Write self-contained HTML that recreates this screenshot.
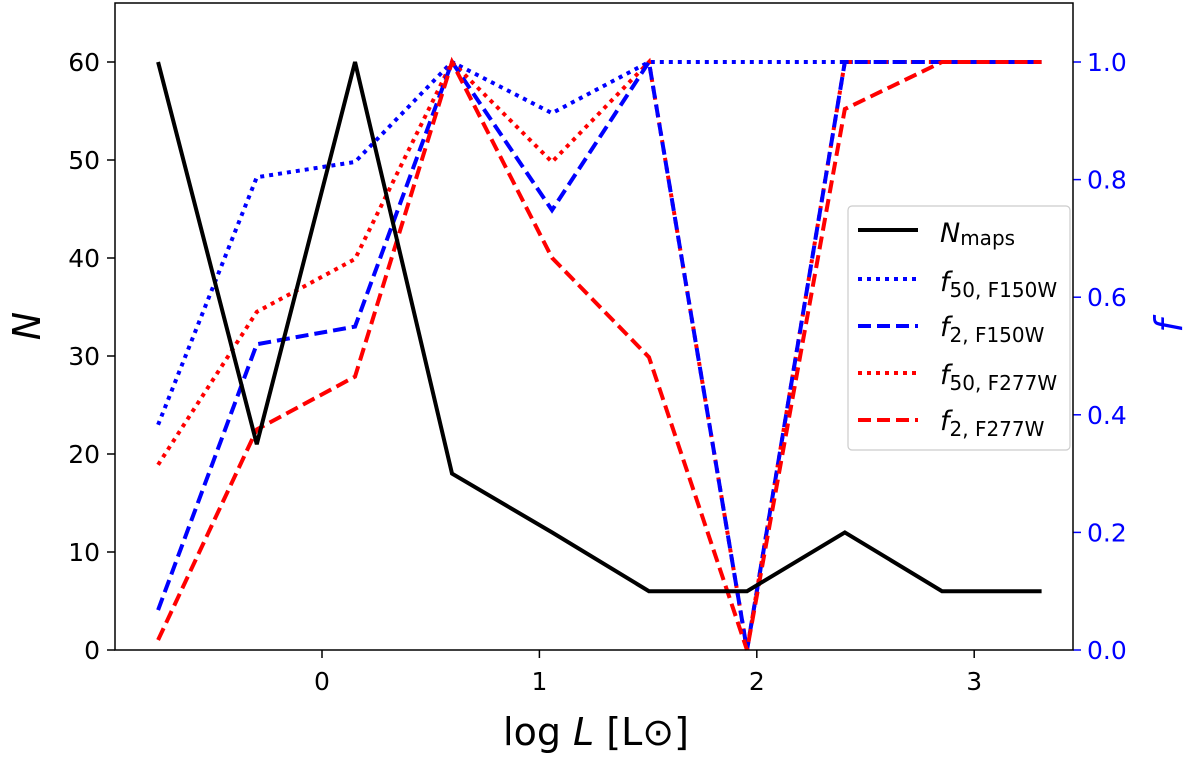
<!DOCTYPE html>
<html><head><meta charset="utf-8"><style>
body{margin:0;background:#fff}
svg{font-family:"DejaVu Sans","Liberation Sans",sans-serif}
</style></head><body>
<svg id="chart" width="1200" height="757">
<g id="marks"></g>
<g id="axes"></g>
<rect x="115" y="3" width="958" height="647" fill="none" stroke="#000" stroke-width="1.5"/>
<text x="40" y="326" font-size="38" font-style="italic" text-anchor="middle" transform="rotate(-90 40 326)">N</text>
<text x="1182" y="326" font-size="38" font-style="italic" fill="#0000ff" text-anchor="middle" transform="rotate(-90 1182 326)">f</text>
<text x="596" y="745" font-size="38" text-anchor="middle">log <tspan font-style="italic">L</tspan> [L<tspan>⊙</tspan>]</text>
<g>
<rect x="848" y="206" width="222" height="244" rx="4" fill="#fff" stroke="#ccc" stroke-width="1.2"/>
<g><line x1="858" y1="230" x2="918" y2="230" stroke="#000" stroke-width="4"/><text x="940" y="242" font-size="27" font-style="italic">N<tspan font-style="normal" font-size="20" dy="3">maps</tspan></text></g>
<g><line x1="858" y1="279" x2="918" y2="279" stroke="#00f" stroke-width="4" stroke-dasharray="4 5"/><text x="940" y="291" font-size="27" font-style="italic">f<tspan font-style="normal" font-size="20" dy="6">50, F150W</tspan></text></g>
<g><line x1="858" y1="326" x2="918" y2="326" stroke="#00f" stroke-width="4" stroke-dasharray="13 6"/><text x="940" y="336" font-size="27" font-style="italic">f<tspan font-style="normal" font-size="20" dy="6">2, F150W</tspan></text></g>
<g><line x1="858" y1="373" x2="918" y2="373" stroke="#f00" stroke-width="4" stroke-dasharray="4 5"/><text x="940" y="384" font-size="27" font-style="italic">f<tspan font-style="normal" font-size="20" dy="6">50, F277W</tspan></text></g>
<g><line x1="858" y1="420" x2="918" y2="420" stroke="#f00" stroke-width="4" stroke-dasharray="13 6"/><text x="940" y="430" font-size="27" font-style="italic">f<tspan font-style="normal" font-size="20" dy="6">2, F277W</tspan></text></g>
</g>
</svg>
<script>
const logL=[-0.754,-0.30,0.152,0.598,1.058,1.504,1.955,2.405,2.852,3.31];
const nMaps=[60,21,60,18,12,6,6,12,6,6];
const f50F150=[0.383,0.804,0.83,1,0.913,1,1,1,1,1];
const f2F150=[0.068,0.52,0.55,1,0.748,1,0,1,1,1];
const f50F277=[0.315,0.575,0.665,1,0.83,1,0,1,1,1];
const f2F277=[0.017,0.375,0.465,1,0.667,0.498,0,0.92,1,1];
const xTicks=[0,1,2,3];
const yTicks=[0,10,20,30,40,50,60];
const y2Ticks=[0.0,0.2,0.4,0.6,0.8,1.0];
const NS="http://www.w3.org/2000/svg";
const X=v=>322+v*217.4;
const Y=v=>650-v*9.8;
const Y2=v=>650-v*588;
const marks=document.getElementById('marks'),axes=document.getElementById('axes');
function mk(tag,attrs,parent){const e=document.createElementNS(NS,tag);for(const k in attrs)e.setAttribute(k,attrs[k]);parent.appendChild(e);return e;}
function series(vals,yf,color,dash,name){
  const p=mk('polyline',{points:vals.map((v,i)=>X(logL[i])+','+yf(v)).join(' '),fill:'none',stroke:color,'stroke-width':4,'stroke-dasharray':dash,'stroke-linejoin':'miter'},marks);
  
  
}
series(f50F150,Y2,'#00f','4 5','line-f50-f150w');
series(f50F277,Y2,'#f00','4 5','line-f50-f277w');
series(f2F150,Y2,'#00f','13 6','line-f2-f150w');
series(f2F277,Y2,'#f00','13 6','line-f2-f277w');
series(nMaps,Y,'#000','none','line-n-maps');
xTicks.forEach(t=>{
  mk('line',{x1:X(t),x2:X(t),y1:650,y2:658,stroke:'#000','stroke-width':1.5},axes);
  const tx=mk('text',{x:X(t),y:690,'font-size':25,'text-anchor':'middle'},axes);tx.textContent=t;
  
  
});
yTicks.forEach(t=>{
  mk('line',{x1:107,x2:115,y1:Y(t),y2:Y(t),stroke:'#000','stroke-width':1.5},axes);
  const tx=mk('text',{x:100,y:Y(t)+9,'font-size':25,'text-anchor':'end'},axes);tx.textContent=t;
  
  
});
y2Ticks.forEach(t=>{
  mk('line',{x1:1073,x2:1081,y1:Y2(t),y2:Y2(t),stroke:'#00f','stroke-width':1.5},axes);
  const tx=mk('text',{x:1087,y:Y2(t)+9,'font-size':25,fill:'#00f'},axes);tx.textContent=t.toFixed(1);
  
  
});
</script>
</body></html>
